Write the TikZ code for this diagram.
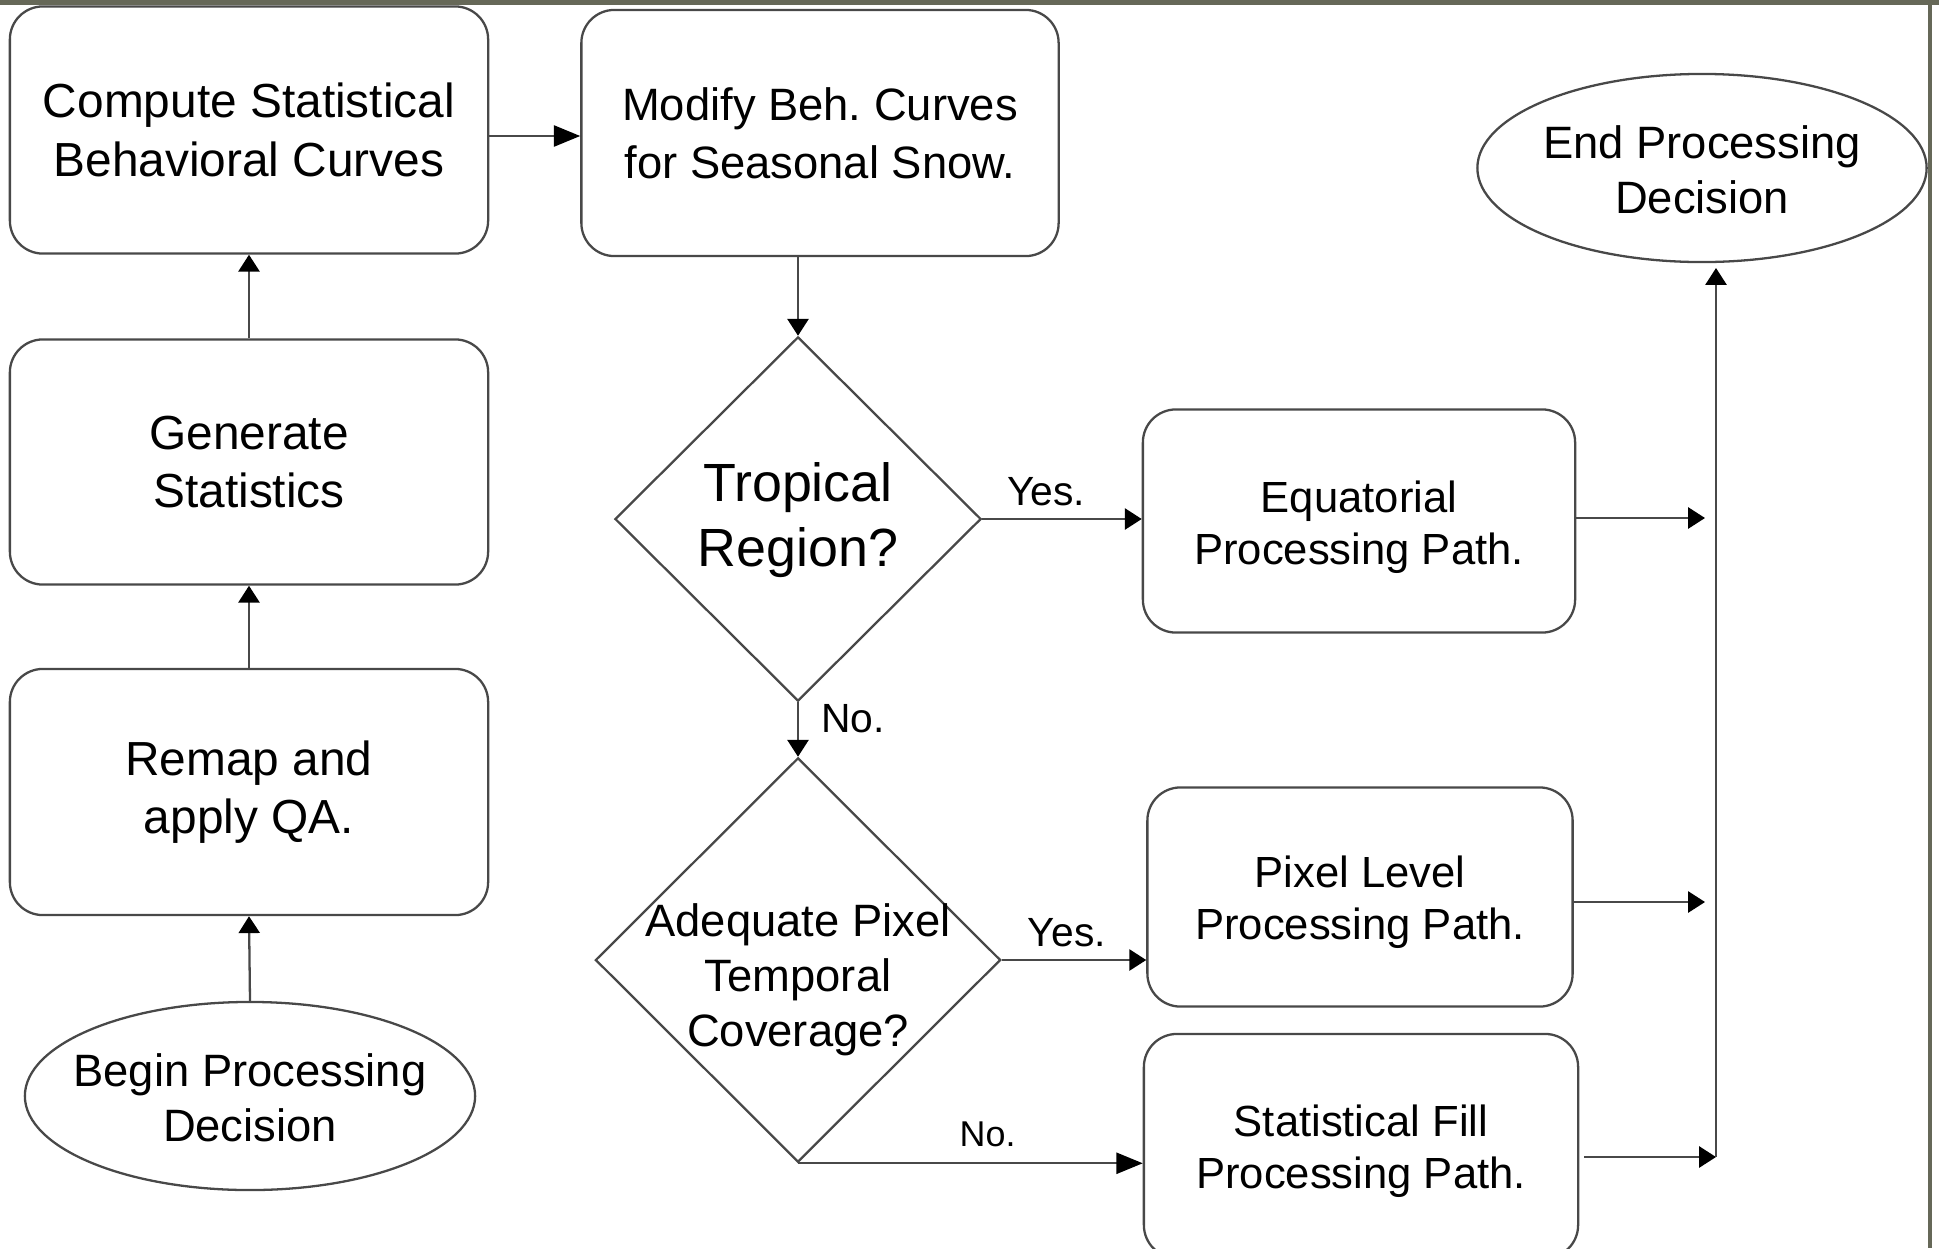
\documentclass[tikz,border=0pt]{standalone}
\usepackage{fontspec}
\setmainfont{Liberation Sans}
\usetikzlibrary{shapes.geometric,arrows.meta}
\definecolor{barcol}{RGB}{102,104,88}
\definecolor{linecol}{RGB}{72,72,72}
\begin{document}
\begin{tikzpicture}[x=0.01cm,y=-0.01cm,
    procbox/.style={shape=rectangle,rounded corners=0.33cm,draw=linecol,line width=0.65pt,align=center,inner sep=0pt},
    termnode/.style={shape=ellipse,draw=linecol,line width=0.65pt,inner sep=0pt},
    decnode/.style={shape=diamond,draw=linecol,line width=0.65pt,inner sep=0pt},
    bigtext/.style={font=\fontsize{13.6}{16.6}\selectfont},
    midtext/.style={font=\fontsize{12.9}{15.6}\selectfont},
    pathtext/.style={align=center,font=\fontsize{12.4}{14.8}\selectfont},
    flow/.style={draw=linecol,line width=0.65pt,-{Triangle[length=4.8pt,width=6pt,color=black]}},
    bigflow/.style={draw=linecol,line width=0.65pt,-{Triangle[length=7.5pt,width=6pt,color=black]}},
    lbl/.style={font=\fontsize{11.6}{13}\selectfont}]
    \useasboundingbox (0,0) rectangle (1939,1248);
    \clip (0,0) rectangle (1939,1248);
    \fill[barcol] (0,0) rectangle (1939,5);
    \draw[barcol,line width=1.2pt] (1930,0) -- (1930,1248);

    \node[procbox,bigtext,minimum width=4.78cm,minimum height=2.47cm] (comp) at (249,130) {Compute Statistical\\Behavioral Curves};
    \node[procbox,bigtext,minimum width=4.78cm,minimum height=2.45cm] (gen) at (249,462) {Generate\\Statistics};
    \node[procbox,bigtext,minimum width=4.78cm,minimum height=2.46cm] (remap) at (249,792) {Remap and\\apply QA.};
    \node[termnode,minimum width=4.5cm,minimum height=1.88cm] (begin) at (250,1096) {};
    \node[midtext,align=center] (begintxt) at (250,1098) {Begin Processing\\Decision};

    \node[procbox,font=\fontsize{12.9}{16.5}\selectfont,minimum width=4.77cm,minimum height=2.46cm] (modify) at (820,133) {Modify Beh.\ Curves\\for Seasonal Snow.};
    \node[decnode,minimum width=3.66cm,minimum height=3.64cm] (tropic) at (798,519) {};
    \node[align=center,font=\fontsize{15.3}{18.6}\selectfont] (tropictxt) at (798,520) {Tropical\\Region?};
    \node[decnode,minimum width=4.05cm,minimum height=4.04cm] (adeq) at (798,960) {};
    \node[midtext,align=center] (adeqtxt) at (798,980) {Adequate Pixel\\Temporal\\Coverage?};

    \node[procbox,minimum width=4.32cm,minimum height=2.23cm] (equat) at (1359,521) {};
    \node[pathtext] (equattxt) at (1359,527) {Equatorial\\Processing Path.};
    \node[procbox,minimum width=4.25cm,minimum height=2.19cm] (pixlev) at (1360,897) {};
    \node[pathtext] (pixlevtxt) at (1360,902) {Pixel Level\\Processing Path.};
    \node[procbox,minimum width=4.34cm,minimum height=2.24cm] (statfill) at (1361,1146) {};
    \node[pathtext] (statfilltxt) at (1361,1151) {Statistical Fill\\Processing Path.};
    \node[termnode,minimum width=4.49cm,minimum height=1.88cm] (endp) at (1702,168) {};
    \node[midtext,align=center] (endptxt) at (1702,170) {End Processing\\Decision};

    \coordinate (busbot) at (1716,1157);
    \coordinate (bustop) at (1716,268);

    \draw[flow] (begin.north) -- (remap.south);
    \draw[flow] (remap) -- (gen);
    \draw[flow] (gen) -- (comp);
    \draw[bigflow] ([yshift=-0.06cm]comp.east) -- ([yshift=-0.06cm]comp.east -| modify.west);
    \draw[flow] (modify.south -| tropic) -- (tropic.north);
    \draw[flow] (tropic.east) -- node[lbl,above,pos=0.4] {Yes.} (tropic.east -| equat.west);
    \draw[flow] (tropic.south) -- node[lbl,right,pos=0.3,xshift=3pt] {No.} (adeq.north);
    \draw[flow] (adeq.east) -- node[lbl,above,pos=0.45] {Yes.} (adeq.east -| pixlev.west);
    \draw[bigflow] (adeq.south) -- node[lbl,above,pos=0.55,yshift=1pt,font=\fontsize{10.2}{12}\selectfont] {No.} (adeq.south -| statfill.west);

    \draw[flow] ([yshift=0.03cm]equat.east) -- ([xshift=-0.11cm,yshift=0.03cm]equat.east -| bustop);
    \draw[flow] ([yshift=-0.05cm]pixlev.east) -- ([xshift=-0.11cm,yshift=-0.05cm]pixlev.east -| bustop);
    \draw[flow] ([xshift=0.05cm]statfill.east |- busbot) -- (busbot);
    \draw[flow] (busbot) -- (bustop);
\end{tikzpicture}
\end{document}
